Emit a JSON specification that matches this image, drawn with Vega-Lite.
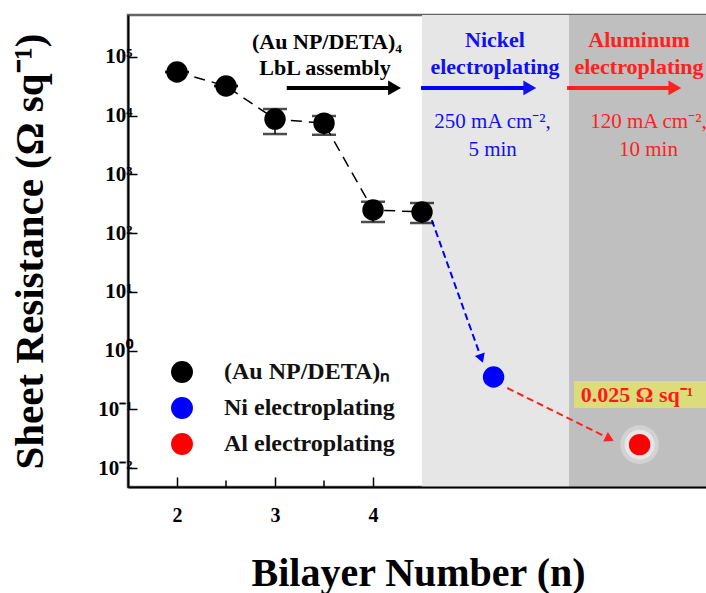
{
  "$schema": "https://vega.github.io/schema/vega-lite/v6.json",
  "width": 580,
  "height": 472,
  "autosize": "none",
  "padding": {"left": 128, "top": 15, "right": 0, "bottom": 106},
  "background": "white",
  "config": {
    "font": "Liberation Serif",
    "view": {"stroke": "#666666", "strokeWidth": 2.5},
    "legend": {"labelFont": "Liberation Serif"},
    "axis": {"labelFont": "Liberation Serif", "titleFont": "Liberation Serif"},
    "text": {"font": "Liberation Serif"}
  },
  "datasets": {
    "pts": [
      {"n": 2, "R": 55000, "lo": 55000, "hi": 55000, "series": "(Au NP/DETA)ₙ"},
      {"n": 2.5, "R": 31800, "lo": 31800, "hi": 31800, "series": "(Au NP/DETA)ₙ"},
      {"n": 3, "R": 8700, "lo": 4840, "hi": 12900, "series": "(Au NP/DETA)ₙ"},
      {"n": 3.5, "R": 7400, "lo": 4700, "hi": 9800, "series": "(Au NP/DETA)ₙ"},
      {"n": 4, "R": 247, "lo": 154, "hi": 340, "series": "(Au NP/DETA)ₙ"},
      {"n": 4.5, "R": 228, "lo": 148, "hi": 324, "series": "(Au NP/DETA)ₙ"},
      {"n": 5.23, "R": 0.354, "lo": 0.354, "hi": 0.354, "series": "Ni electroplating"},
      {"n": 6.72, "R": 0.025, "lo": 0.025, "hi": 0.025, "series": "Al electroplating"}
    ],
    "bands": [
      {"n": 4.5, "n2": 6.0, "stage": "Ni"},
      {"n": 6.0, "n2": 7.42, "stage": "Al"}
    ],
    "dashArrows": [
      {"stage": "Ni", "n": 4.6, "R": 166, "k": 0},
      {"stage": "Ni", "n": 5.10, "R": 0.774, "k": 1},
      {"stage": "Al", "n": 5.37, "R": 0.23, "k": 0},
      {"stage": "Al", "n": 6.40, "R": 0.0324, "k": 1}
    ],
    "stageArrows": [
      {"stage": "LbL", "n": 3.12, "R": 29500, "k": 0},
      {"stage": "LbL", "n": 4.22, "R": 29500, "k": 1},
      {"stage": "Ni", "n": 4.49, "R": 29500, "k": 0},
      {"stage": "Ni", "n": 5.60, "R": 29500, "k": 1},
      {"stage": "Al", "n": 5.98, "R": 29500, "k": 0},
      {"stage": "Al", "n": 7.08, "R": 29500, "k": 1}
    ],
    "labels": [
      {"stage": "LbL", "kind": "title", "n": 3.53, "R": 178000, "text": "(Au NP/DETA)₄"},
      {"stage": "LbL", "kind": "title", "n": 3.51, "R": 64600, "text": "LbL assembly"},
      {"stage": "Ni", "kind": "title", "n": 5.245, "R": 193000, "text": "Nickel"},
      {"stage": "Ni", "kind": "title", "n": 5.245, "R": 67000, "text": "electroplating"},
      {"stage": "Ni", "kind": "cond", "n": 5.22, "R": 7740, "text": "250 mA cm⁻²,"},
      {"stage": "Ni", "kind": "cond", "n": 5.22, "R": 2590, "text": "5 min"},
      {"stage": "Al", "kind": "title", "n": 6.714, "R": 193000, "text": "Aluminum"},
      {"stage": "Al", "kind": "title", "n": 6.714, "R": 67000, "text": "electroplating"},
      {"stage": "Al", "kind": "cond", "n": 6.81, "R": 7740, "text": "120 mA cm⁻²,"},
      {"stage": "Al", "kind": "cond", "n": 6.81, "R": 2590, "text": "10 min"}
    ],
    "box": [{"n": 6.05, "n2": 7.42, "R": 0.105, "R2": 0.303}],
    "valueLabel": [{"n": 6.12, "R": 0.175, "text": "0.025 Ω sq⁻¹"}],
    "minor": [{"n": 2.5}, {"n": 3.5}]
  },
  "layer": [
    {
      "data": {"name": "bands"},
      "transform": [{"filter": "datum.stage == 'Ni'"}],
      "mark": {"type": "rect", "color": "#e6e6e6"},
      "encoding": {
        "x": {"field": "n", "type": "quantitative", "scale": {"domain": [1.5, 7.418], "nice": false, "zero": false}},
        "x2": {"field": "n2"}
      }
    },
    {
      "data": {"name": "bands"},
      "transform": [{"filter": "datum.stage == 'Al'"}],
      "mark": {"type": "rect", "color": "#bfbfbf"},
      "encoding": {
        "x": {"field": "n", "type": "quantitative", "scale": {"domain": [1.5, 7.418], "nice": false, "zero": false}},
        "x2": {"field": "n2"}
      }
    },
    {
      "data": {"name": "box"},
      "mark": {"type": "rect", "color": "#dcdc7a"},
      "encoding": {
        "x": {"field": "n", "type": "quantitative", "scale": {"domain": [1.5, 7.418], "nice": false, "zero": false}},
        "x2": {"field": "n2"},
        "y": {"field": "R", "type": "quantitative", "scale": {"type": "log", "domain": [0.00475, 514000], "nice": false}},
        "y2": {"field": "R2"}
      }
    },
    {
      "data": {"name": "pts"},
      "transform": [{"filter": "datum.series == '(Au NP/DETA)ₙ'"}],
      "mark": {"type": "line", "color": "black", "strokeWidth": 1.5, "strokeDash": [11, 7]},
      "encoding": {
        "x": {"field": "n", "type": "quantitative", "scale": {"domain": [1.5, 7.418], "nice": false, "zero": false}},
        "y": {"field": "R", "type": "quantitative", "scale": {"type": "log", "domain": [0.00475, 514000], "nice": false}},
        "order": {"field": "n"}
      }
    },
    {
      "data": {"name": "dashArrows"},
      "mark": {"type": "line", "strokeWidth": 2, "strokeDash": [7, 4]},
      "encoding": {
        "x": {"field": "n", "type": "quantitative", "scale": {"domain": [1.5, 7.418], "nice": false, "zero": false}},
        "y": {"field": "R", "type": "quantitative", "scale": {"type": "log", "domain": [0.00475, 514000], "nice": false}},
        "detail": {"field": "stage"},
        "order": {"field": "k"},
        "stroke": {"field": "stage", "type": "nominal", "scale": {"domain": ["LbL", "Ni", "Al"], "range": ["#000000", "#0000ff", "#ff2020"]}, "legend": null}
      }
    },
    {
      "data": {"name": "dashArrows"},
      "transform": [{"filter": "datum.k == 1 && datum.stage == 'Ni'"}],
      "mark": {"type": "point", "shape": "triangle", "filled": true, "size": 110, "angle": 160, "opacity": 1, "color": "#0000ff"},
      "encoding": {
        "x": {"field": "n", "type": "quantitative", "scale": {"domain": [1.5, 7.418], "nice": false, "zero": false}},
        "y": {"field": "R", "type": "quantitative", "scale": {"type": "log", "domain": [0.00475, 514000], "nice": false}}
      }
    },
    {
      "data": {"name": "dashArrows"},
      "transform": [{"filter": "datum.k == 1 && datum.stage == 'Al'"}],
      "mark": {"type": "point", "shape": "triangle", "filled": true, "size": 110, "angle": 116, "opacity": 1, "color": "#ff2020"},
      "encoding": {
        "x": {"field": "n", "type": "quantitative", "scale": {"domain": [1.5, 7.418], "nice": false, "zero": false}},
        "y": {"field": "R", "type": "quantitative", "scale": {"type": "log", "domain": [0.00475, 514000], "nice": false}}
      }
    },
    {
      "data": {"name": "stageArrows"},
      "mark": {"type": "line", "strokeWidth": 4},
      "encoding": {
        "x": {"field": "n", "type": "quantitative", "scale": {"domain": [1.5, 7.418], "nice": false, "zero": false}},
        "y": {"field": "R", "type": "quantitative", "scale": {"type": "log", "domain": [0.00475, 514000], "nice": false}},
        "detail": {"field": "stage"},
        "order": {"field": "k"},
        "stroke": {"field": "stage", "type": "nominal", "scale": {"domain": ["LbL", "Ni", "Al"], "range": ["#000000", "#0000ff", "#ff2020"]}, "legend": null}
      }
    },
    {
      "data": {"name": "stageArrows"},
      "transform": [{"filter": "datum.k == 1"}],
      "mark": {"type": "point", "shape": "triangle-right", "filled": true, "size": 220, "opacity": 1},
      "encoding": {
        "x": {"field": "n", "type": "quantitative", "scale": {"domain": [1.5, 7.418], "nice": false, "zero": false}},
        "y": {"field": "R", "type": "quantitative", "scale": {"type": "log", "domain": [0.00475, 514000], "nice": false}},
        "fill": {"field": "stage", "type": "nominal", "scale": {"domain": ["LbL", "Ni", "Al"], "range": ["#000000", "#1010f0", "#ff2020"]}, "legend": null}
      }
    },
    {
      "data": {"name": "labels"},
      "transform": [{"filter": "datum.kind == 'title'"}],
      "mark": {"type": "text", "fontSize": 22, "fontWeight": "bold", "baseline": "middle", "align": "center", "font": "Liberation Serif"},
      "encoding": {
        "x": {"field": "n", "type": "quantitative", "scale": {"domain": [1.5, 7.418], "nice": false, "zero": false}},
        "y": {"field": "R", "type": "quantitative", "scale": {"type": "log", "domain": [0.00475, 514000], "nice": false}},
        "text": {"field": "text"},
        "fill": {"field": "stage", "type": "nominal", "scale": {"domain": ["LbL", "Ni", "Al"], "range": ["#000000", "#1010f0", "#ff2020"]}, "legend": null}
      }
    },
    {
      "data": {"name": "labels"},
      "transform": [{"filter": "datum.kind == 'cond'"}],
      "mark": {"type": "text", "fontSize": 21, "baseline": "middle", "align": "center", "font": "Liberation Serif"},
      "encoding": {
        "x": {"field": "n", "type": "quantitative", "scale": {"domain": [1.5, 7.418], "nice": false, "zero": false}},
        "y": {"field": "R", "type": "quantitative", "scale": {"type": "log", "domain": [0.00475, 514000], "nice": false}},
        "text": {"field": "text"},
        "fill": {"field": "stage", "type": "nominal", "scale": {"domain": ["LbL", "Ni", "Al"], "range": ["#000000", "#1010f0", "#ff2020"]}, "legend": null}
      }
    },
    {
      "data": {"name": "valueLabel"},
      "mark": {"type": "text", "fontSize": 22, "fontWeight": "bold", "baseline": "middle", "align": "left", "color": "#ff1a1a", "font": "Liberation Serif"},
      "encoding": {
        "x": {"field": "n", "type": "quantitative", "scale": {"domain": [1.5, 7.418], "nice": false, "zero": false}},
        "y": {"field": "R", "type": "quantitative", "scale": {"type": "log", "domain": [0.00475, 514000], "nice": false}},
        "text": {"field": "text"}
      }
    },
    {
      "data": {"name": "pts"},
      "transform": [{"filter": "datum.series == 'Al electroplating'"}],
      "mark": {"type": "point", "shape": "circle", "filled": true, "size": 1500, "opacity": 0.3, "color": "white"},
      "encoding": {
        "x": {"field": "n", "type": "quantitative", "scale": {"domain": [1.5, 7.418], "nice": false, "zero": false}},
        "y": {"field": "R", "type": "quantitative", "scale": {"type": "log", "domain": [0.00475, 514000], "nice": false}}
      }
    },
    {
      "data": {"name": "pts"},
      "transform": [{"filter": "datum.series == 'Al electroplating'"}],
      "mark": {"type": "point", "shape": "circle", "filled": true, "size": 900, "opacity": 0.45, "color": "white"},
      "encoding": {
        "x": {"field": "n", "type": "quantitative", "scale": {"domain": [1.5, 7.418], "nice": false, "zero": false}},
        "y": {"field": "R", "type": "quantitative", "scale": {"type": "log", "domain": [0.00475, 514000], "nice": false}}
      }
    },
    {
      "data": {"name": "pts"},
      "transform": [{"filter": "datum.series == '(Au NP/DETA)ₙ'"}],
      "mark": {"type": "errorbar", "ticks": {"size": 24, "thickness": 2.5, "color": "black"}, "rule": {"strokeWidth": 1.5, "color": "black"}, "color": "black"},
      "encoding": {
        "x": {"field": "n", "type": "quantitative", "scale": {"domain": [1.5, 7.418], "nice": false, "zero": false}},
        "y": {"field": "lo", "type": "quantitative", "title": "Sheet Resistance (Ω sq⁻¹)", "scale": {"type": "log", "domain": [0.00475, 514000], "nice": false}},
        "y2": {"field": "hi"}
      }
    },
    {
      "data": {"name": "minor"},
      "mark": {"type": "rule", "color": "black", "strokeWidth": 1.5},
      "encoding": {
        "x": {"field": "n", "type": "quantitative", "scale": {"domain": [1.5, 7.418], "nice": false, "zero": false}},
        "y": {"datum": 0.00475, "type": "quantitative", "scale": {"type": "log", "domain": [0.00475, 514000], "nice": false}},
        "y2": {"datum": 0.0061}
      }
    },
    {
      "data": {"name": "pts"},
      "mark": {"type": "point", "shape": "circle", "filled": true, "size": 460, "opacity": 1},
      "encoding": {
        "x": {
          "field": "n", "type": "quantitative",
          "scale": {"domain": [1.5, 7.418], "nice": false, "zero": false},
          "axis": {
            "values": [2, 3, 4], "format": "d",
            "title": "Bilayer Number (n)",
            "titleFontSize": 40, "titleFontWeight": "bold", "titleColor": "black", "titlePadding": 28, "titleFont": "Liberation Serif",
            "labelFontSize": 20, "labelFontWeight": "bold", "labelColor": "black", "labelPadding": 28, "labelFont": "Liberation Serif",
            "tickSize": -10, "tickWidth": 1.5, "tickColor": "black",
            "domainColor": "black", "domainWidth": 2, "grid": false, "zindex": 1
          }
        },
        "y": {
          "field": "R", "type": "quantitative",
          "title": "Sheet Resistance (Ω sq⁻¹)",
          "scale": {"type": "log", "domain": [0.00475, 514000], "nice": false},
          "axis": {
            "values": [0.01, 0.1, 1, 10, 100, 1000, 10000, 100000],
            "labelExpr": "datum.value < 0.05 ? '10⁻²' : datum.value < 0.5 ? '10⁻¹' : datum.value < 5 ? '10⁰' : datum.value < 50 ? '10¹' : datum.value < 500 ? '10²' : datum.value < 5000 ? '10³' : datum.value < 50000 ? '10⁴' : '10⁵'",
            "title": "Sheet Resistance (Ω sq⁻¹)",
            "titleFontSize": 41, "titleFontWeight": "bold", "titleColor": "black", "titlePadding": 46, "titleFont": "Liberation Serif",
            "labelFontSize": 21, "labelFontWeight": "bold", "labelColor": "black", "labelPadding": 5, "labelFont": "Liberation Serif",
            "tickSize": -9, "tickWidth": 1.5, "tickColor": "black",
            "domainColor": "black", "domainWidth": 2, "grid": false, "zindex": 1
          }
        },
        "color": {
          "field": "series", "type": "nominal",
          "scale": {"domain": ["(Au NP/DETA)ₙ", "Ni electroplating", "Al electroplating"], "range": ["#000000", "#0000ff", "#ff0000"]},
          "legend": {
            "orient": "none", "legendX": 42, "legendY": 345, "title": null,
            "symbolType": "circle", "symbolSize": 480, "symbolStrokeWidth": 0, "symbolOpacity": 1,
            "labelFontSize": 24, "labelFontWeight": "bold", "labelColor": "#111111", "labelFont": "Liberation Serif",
            "labelLimit": 400,
            "labelOffset": 30, "rowPadding": 12, "padding": 0
          }
        }
      }
    }
  ]
}
